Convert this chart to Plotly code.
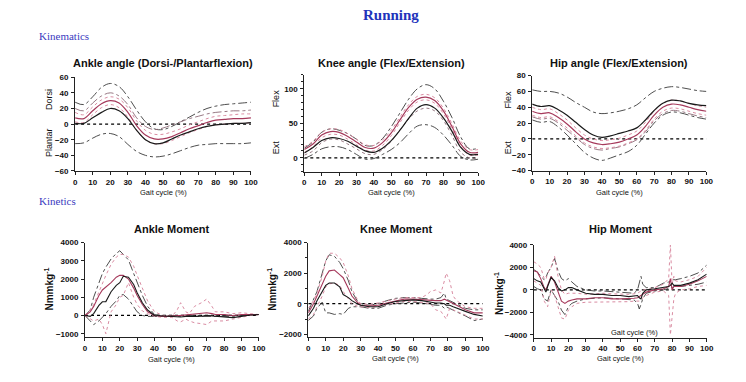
import plotly.graph_objects as go

# ---------------- DATA ----------------
X5 = [0, 5, 10, 15, 20, 25, 30, 35, 40, 45, 50, 55, 60, 65, 70, 75, 80, 85, 90, 95, 100]
X_TICKS = [0, 10, 20, 30, 40, 50, 60, 70, 80, 90, 100]

# Ankle angle (deg)
ANK_BLACK_MEAN = [1, 1, 8, 15, 20, 17, 7, -8, -20, -25, -24, -19, -14, -10, -6, -3, -1, 0, 1, 1, 2]
ANK_BLACK_HI = [28, 25, 35, 47, 52, 48, 35, 18, 3, -6, -7, -3, 3, 9, 15, 20, 23, 25, 26, 27, 28]
ANK_BLACK_LO = [-25, -24, -18, -13, -12, -16, -26, -35, -40, -42, -41, -38, -34, -30, -27, -26, -25, -25, -25, -25, -24]
ANK_RED_MEAN = [8, 7, 17, 26, 30, 27, 15, -2, -14, -19, -19, -16, -11, -6, -2, 2, 5, 6, 7, 7, 8]
ANK_RED_HI = [15, 12, 22, 31, 35, 32, 21, 4, -8, -13, -13, -10, -6, -1, 3, 7, 10, 11, 12, 13, 13]
ANK_RED_LO = [3, 2, 12, 21, 25, 21, 9, -8, -20, -25, -25, -21, -16, -11, -7, -3, -1, 0, 1, 1, 2]
ANK_RED_SD = [20, 17, 27, 36, 40, 36, 25, 8, -3, -7, -5, -1, 3, 7, 10, 13, 15, 16, 17, 17, 18]

# Knee angle (deg)
KNA_BLACK_MEAN = [7, 15, 25, 29, 28, 24, 17, 10, 8, 14, 25, 40, 57, 72, 77, 72, 58, 38, 15, 5, 5]
KNA_BLACK_HI = [14, 23, 37, 42, 40, 35, 27, 18, 18, 28, 45, 65, 85, 100, 106, 100, 82, 58, 30, 13, 14]
KNA_BLACK_LO = [-1, 5, 13, 16, 16, 12, 5, -2, -1, 5, 12, 22, 35, 46, 48, 44, 33, 18, 2, -3, -2]
KNA_RED_MEAN = [12, 20, 33, 38, 37, 31, 23, 15, 14, 22, 36, 55, 73, 85, 88, 83, 68, 45, 20, 8, 8]
KNA_RED_HI = [16, 24, 37, 42, 41, 35, 27, 19, 18, 26, 40, 59, 77, 89, 92, 87, 72, 49, 24, 12, 12]
KNA_RED_LO = [8, 16, 29, 34, 33, 27, 19, 11, 10, 18, 32, 51, 69, 81, 84, 79, 64, 41, 16, 4, 4]
KNA_RED_SD = [4, 10, 22, 27, 26, 20, 13, 6, 5, 12, 24, 40, 56, 68, 72, 68, 54, 32, 8, 0, 0]

# Hip angle (deg)
HPA_BLACK_MEAN = [44, 41, 42, 37, 30, 21, 12, 5, 2, 4, 7, 10, 14, 24, 36, 45, 49, 48, 45, 43, 42]
HPA_BLACK_HI = [62, 60, 60, 58, 53, 46, 40, 34, 32, 33, 35, 38, 43, 52, 60, 64, 66, 65, 63, 61, 60]
HPA_BLACK_LO = [24, 21, 22, 15, 5, -6, -17, -24, -27, -24, -20, -16, -8, 6, 20, 30, 34, 33, 30, 27, 25]
HPA_RED_MEAN = [35, 32, 33, 27, 19, 9, 0, -5, -7, -6, -4, 0, 5, 16, 30, 40, 44, 43, 40, 37, 35]
HPA_RED_HI = [40, 37, 38, 32, 24, 14, 5, 0, -2, -1, 1, 5, 10, 21, 35, 45, 49, 48, 45, 42, 40]
HPA_RED_LO = [30, 27, 28, 22, 14, 4, -5, -10, -12, -11, -9, -5, 0, 11, 25, 35, 39, 38, 35, 32, 30]
HPA_RED_SD = [28, 25, 26, 20, 11, 2, -7, -12, -14, -12, -10, -6, -1, 9, 23, 32, 36, 35, 32, 29, 27]

# Ankle moment (Nmm/kg)
AM_X = [0, 3, 5, 8, 10, 12, 15, 18, 20, 22, 25, 28, 30, 33, 36, 40, 45, 50, 53, 55, 58, 60, 63, 67, 70, 73, 75, 80, 85, 90, 95, 100]
AM_BLACK_MEAN = [0, -50, 100, 550, 750, 760, 1300, 1650, 1800, 2150, 2100, 1700, 1250, 700, 300, 0, -30, -50, -60, -80, -50, -60, -50, -40, 0, -30, -50, -100, -120, -50, 30, 50]
AM_BLACK_HI = [0, 300, 1000, 1800, 2300, 2650, 3100, 3400, 3550, 3350, 3050, 2300, 1800, 1100, 500, 50, 0, 0, 0, 0, 0, 0, 0, 0, 0, 0, 0, 0, 0, 0, 50, 50]
AM_BLACK_LO = [0, -300, -500, -300, -100, 100, 500, 800, 1100, 1150, 900, 500, 200, 0, -50, -50, -50, -50, -50, -50, -50, -50, -50, -50, -50, -50, -50, -50, -50, 0, 0, 50]
AM_RED_MEAN = [0, 200, 500, 1100, 1400, 1550, 1800, 2100, 2200, 2200, 2000, 1500, 1100, 600, 200, 0, -50, -50, -20, 0, 30, 50, 80, 100, 150, 100, 50, 50, 0, 50, 50, 50]
AM_RED_HI = [0, 300, 600, 1300, 1800, 2200, 2800, 3200, 3350, 3350, 3200, 2700, 2200, 1500, 800, 200, 0, -50, 300, 700, 200, 100, 500, 700, 900, 500, 200, 200, 100, 150, 100, 50]
AM_RED_LO = [0, -200, -300, -200, -500, -1000, 200, 600, 1000, 1100, 1800, 1000, 600, 250, 100, -50, -100, -100, -300, -350, -200, -300, -400, -450, -500, -300, -300, -300, -200, -100, 0, 50]

# Knee moment (Nmm/kg)
KM_X = [0, 3, 5, 8, 10, 12, 15, 18, 20, 23, 25, 28, 30, 35, 40, 45, 50, 55, 60, 65, 68, 70, 73, 76, 78, 79, 81, 83, 85, 90, 95, 100]
KM_BLACK_MEAN = [-800, -300, 200, 800, 1200, 1350, 1350, 1100, 600, 400, 200, 0, -100, -200, -200, 0, 150, 200, 250, 200, 150, 100, 50, 50, 0, -100, -100, -200, -300, -500, -700, -800]
KM_BLACK_HI = [-500, 300, 800, 2000, 2800, 3200, 3100, 2700, 2300, 1500, 800, 200, 0, -100, 0, 200, 350, 400, 400, 350, 300, 300, 300, 400, 700, 300, 200, 100, 0, -300, -400, -400]
KM_BLACK_LO = [-1100, -800, -300, 100, -600, -600, -700, -650, -700, -300, -200, -200, -200, -300, -300, -100, 0, 50, 100, 50, 0, -50, -100, -100, -300, -200, -300, -400, -500, -800, -1100, -1000]
KM_RED_MEAN = [-600, 0, 500, 1300, 1800, 2150, 2200, 1900, 1700, 1000, 500, 100, -100, -150, -100, 50, 200, 300, 300, 250, 220, 200, 200, 200, 300, 250, 150, 0, -100, -400, -600, -600]
KM_RED_HI = [-300, 200, 700, 1800, 2800, 3300, 3300, 3000, 2700, 1800, 1000, 300, 0, -50, 50, 200, 300, 400, 400, 400, 600, 800, 900, 700, 1500, 2000, 1500, 500, 200, -200, -300, -300]
KM_RED_LO = [-1000, -700, -200, 500, 1100, 1300, 1350, 1200, 800, 300, 0, -150, -200, -250, -200, -50, 50, 150, 150, 100, 50, 0, -400, -500, -800, -1000, -300, -400, -500, -700, -1000, -1000]

# Hip moment (Nmm/kg)
HM_X = [0, 2, 4, 6, 7, 8, 10, 12, 14, 16, 18, 20, 22, 25, 30, 35, 40, 45, 50, 55, 58, 60, 61, 62, 63, 65, 70, 75, 78, 79, 80, 81, 82, 85, 90, 95, 100]
HM_BLACK_MEAN = [1000, 800, 700, 100, -200, 300, 1100, 800, 200, -100, 0, 200, 200, 0, -300, -400, -400, -500, -500, -600, -500, -500, -700, -800, -300, 0, 100, 200, 300, 400, 600, 400, 400, 400, 600, 900, 1400]
HM_BLACK_HI = [1800, 1600, 1200, 900, 1100, 1500, 2000, 2800, 1700, 1000, 800, 1000, 700, 300, 0, -100, -100, -150, -200, -250, -300, 0, 700, 1200, 500, 200, 200, 600, 700, 800, 900, 900, 900, 1000, 1200, 1500, 2200]
HM_BLACK_LO = [300, 100, 0, -800, -900, -1000, 0, -500, -1000, -1800, -2200, -1500, -1200, -1000, -800, -750, -700, -750, -800, -850, -900, -1200, -1700, -1300, -800, -300, -100, 0, 100, 200, 200, 250, 300, 300, 400, 500, 700]
HM_RED_MEAN = [1700, 1600, 1000, 200, 0, 400, 1200, 700, -200, -1000, -1200, -1000, -900, -800, -800, -700, -700, -800, -800, -800, -750, -700, -600, -500, -400, -200, 0, 100, 300, 1000, 0, 300, 300, 300, 500, 800, 1200]
HM_RED_HI = [2500, 2300, 2000, 1000, 900, 1500, 2000, 3000, 1200, 0, -400, -300, -300, -300, -400, -350, -300, -350, -400, -400, -350, -300, -200, -100, 0, 0, 200, 500, 1000, 4000, 500, 1200, 800, 700, 900, 1200, 2000]
HM_RED_LO = [800, 600, 400, -1000, -1300, -1500, 0, -500, -1500, -2500, -2600, -1800, -1500, -1200, -1100, -1100, -1100, -1100, -1100, -1050, -1000, -1000, -1000, -900, -700, -500, -200, -100, -500, -4000, -2000, -800, -300, 0, 100, 300, 400]

TITLES = ["Ankle angle (Dorsi-/Plantarflexion)", "Knee angle (Flex/Extension)", "Hip angle (Flex/Extension)",
          "Ankle Moment", "Knee Moment", "Hip Moment"]

# ---------------- STYLE ----------------
W, H = 746, 382
BLACK = "#1a1a1a"
RED = "#a63a5c"
PINK = "#d98ca2"
DD = "#3a3a3a"
REDSD = "#8c6a76"
FONT = "Liberation Sans, Arial, sans-serif"
SERIF = "Liberation Serif, Times New Roman, serif"


def px_x(p):
    return p / W


def px_y(p):
    return 1 - p / H


# panel geometry in pixels: (left, right, top, bottom)
PANELS = [
    (74, 252, 75, 171),
    (306, 482, 72.7, 171.7),
    (536.7, 713, 73.3, 170.7),
    (84, 260, 244.3, 341.4),
    (310, 486.7, 244.3, 341.4),
    (538.3, 713.3, 246.7, 341.7),
]
YRANGES = [[-60, 60], [-20, 120], [-40, 80], [-1200, 4000], [-2200, 4000], [-4250, 4000]]
YTICKS = [[-60, -40, -20, 0, 20, 40, 60], [0, 50, 100], [-40, -20, 0, 20, 40, 60, 80],
          [-1000, 0, 1000, 2000, 3000, 4000], [-2000, 0, 2000, 4000], [-4000, -2000, 0, 2000, 4000]]

fig = go.Figure()


def add_panel(i, x, series, spline):
    ax = "" if i == 0 else str(i + 1)
    shape = "spline" if spline else "linear"
    # zero reference line
    fig.add_trace(go.Scatter(x=[0, 100], y=[0, 0], mode="lines",
                             line=dict(color="black", width=1.2, dash="dot"),
                             xaxis="x" + ax, yaxis="y" + ax, hoverinfo="skip"))
    for ys, color, dash, width in series:
        fig.add_trace(go.Scatter(x=x, y=ys, mode="lines",
                                 line=dict(color=color, width=width, dash=dash, shape=shape),
                                 xaxis="x" + ax, yaxis="y" + ax))


add_panel(0, X5, [
    (ANK_BLACK_HI, DD, "dashdot", 0.9), (ANK_BLACK_LO, DD, "dashdot", 0.9),
    (ANK_RED_SD, REDSD, "dashdot", 0.9),
    (ANK_RED_HI, PINK, "dot", 1), (ANK_RED_LO, PINK, "dot", 1),
    (ANK_RED_MEAN, RED, "solid", 1.2), (ANK_BLACK_MEAN, BLACK, "solid", 1.2)], True)
add_panel(1, X5, [
    (KNA_BLACK_HI, DD, "dashdot", 0.9), (KNA_BLACK_LO, DD, "dashdot", 0.9),
    (KNA_RED_SD, REDSD, "dot", 0.9),
    (KNA_RED_HI, PINK, "dot", 1), (KNA_RED_LO, PINK, "dot", 1),
    (KNA_RED_MEAN, RED, "solid", 1.2), (KNA_BLACK_MEAN, BLACK, "solid", 1.2)], True)
add_panel(2, X5, [
    (HPA_BLACK_HI, DD, "dashdot", 0.9), (HPA_BLACK_LO, DD, "dashdot", 0.9),
    (HPA_RED_SD, REDSD, "dashdot", 0.9),
    (HPA_RED_HI, PINK, "dot", 1), (HPA_RED_LO, PINK, "dot", 1),
    (HPA_RED_MEAN, RED, "solid", 1.2), (HPA_BLACK_MEAN, BLACK, "solid", 1.2)], True)
add_panel(3, AM_X, [
    (AM_BLACK_HI, DD, "dashdot", 0.9), (AM_BLACK_LO, DD, "dashdot", 0.9),
    (AM_RED_HI, PINK, "dot", 1), (AM_RED_LO, PINK, "dot", 1),
    (AM_RED_MEAN, RED, "solid", 1.1), (AM_BLACK_MEAN, BLACK, "solid", 1.1)], False)
add_panel(4, KM_X, [
    (KM_BLACK_HI, DD, "dashdot", 0.9), (KM_BLACK_LO, DD, "dashdot", 0.9),
    (KM_RED_HI, PINK, "dot", 1), (KM_RED_LO, PINK, "dot", 1),
    (KM_RED_MEAN, RED, "solid", 1.1), (KM_BLACK_MEAN, BLACK, "solid", 1.1)], False)
add_panel(5, HM_X, [
    (HM_BLACK_HI, DD, "dashdot", 0.9), (HM_BLACK_LO, DD, "dashdot", 0.9),
    (HM_RED_HI, PINK, "dot", 1), (HM_RED_LO, PINK, "dot", 1),
    (HM_RED_MEAN, RED, "solid", 1.1), (HM_BLACK_MEAN, BLACK, "solid", 1.1)], False)

layout = dict(
    width=W, height=H, margin=dict(l=0, r=0, t=0, b=0),
    paper_bgcolor="white", plot_bgcolor="white", showlegend=False,
)
tickfont = dict(family=FONT, size=8, color="#111", weight="bold")
for i, (l, r, t, b) in enumerate(PANELS):
    ax = "" if i == 0 else str(i + 1)
    layout["xaxis" + ax] = dict(
        domain=[px_x(l), px_x(r)], range=[0, 100], tickvals=X_TICKS,
        showline=True, linecolor="#222", linewidth=1, ticks="outside", ticklen=3,
        tickwidth=1, tickcolor="#222", showgrid=False, zeroline=False,
        tickfont=tickfont, anchor="y" + ax, fixedrange=True, ticklabelstandoff=0)
    yd = dict(
        domain=[px_y(b), px_y(t)], range=YRANGES[i], tickvals=YTICKS[i],
        showline=True, linecolor="#222", linewidth=1, ticks="outside", ticklen=3,
        tickwidth=1, tickcolor="#222", showgrid=False, zeroline=False,
        tickfont=tickfont, anchor="x" + ax, fixedrange=True, ticklabelstandoff=1)
    if i == 1:
        yd["minor"] = dict(dtick=10, ticks="outside", ticklen=2, tickcolor="#222")
    if i == 4:
        yd["minor"] = dict(dtick=1000, ticks="outside", ticklen=2, tickcolor="#222")
    layout["yaxis" + ax] = yd

annotations = []


def ann(text, x, y, size, color="#111", family=FONT, weight="normal", angle=0, xanchor="center"):
    annotations.append(dict(text=text, x=px_x(x), y=px_y(y), xref="paper", yref="paper",
                            showarrow=False, xanchor=xanchor, yanchor="middle", textangle=angle,
                            font=dict(family=family, size=size, color=color, weight=weight)))


ann("Running", 394, 11, 15, color="#2233bb", family=SERIF, weight="bold")
ann("Kinematics", 35, 33, 11, color="#3a3ac0", family=SERIF, xanchor="left")
ann("Kinetics", 35, 202, 11, color="#3a3ac0", family=SERIF, xanchor="left")

title_y = [60, 60, 60, 230, 230, 230]
xt_y = [193, 193, 193, 364, 363, 363]
for i, (l, r, t, b) in enumerate(PANELS):
    ann(TITLES[i], (l + r) / 2, title_y[i], 11, weight="bold")
    ann("Gait cycle (%)", (l + r) / 2, xt_y[i], 7.5)

ann("Gait cycle (%)", 640, 336, 7.5)

ann("Dorsi", 47, 98, 9, angle=-90)
ann("Plantar", 47, 142, 9, angle=-90)
ann("Flex", 277, 97, 9, angle=-90)
ann("Ext", 277, 147, 9, angle=-90)
ann("Flex", 512, 98, 9, angle=-90)
ann("Ext", 512, 147, 9, angle=-90)
ann("Nmmkg<sup>-1</sup>", 48, 292, 10, weight="bold", angle=-90)
ann("Nmmkg<sup>-1</sup>", 273, 292, 10, weight="bold", angle=-90)
ann("Nmmkg<sup>-1</sup>", 503, 296, 10, weight="bold", angle=-90)

layout["annotations"] = annotations
fig.update_layout(**layout)
fig.write_html("out.html", config={"displayModeBar": False},
               post_script="document.body.style.margin='0';document.body.style.overflow='hidden';")
